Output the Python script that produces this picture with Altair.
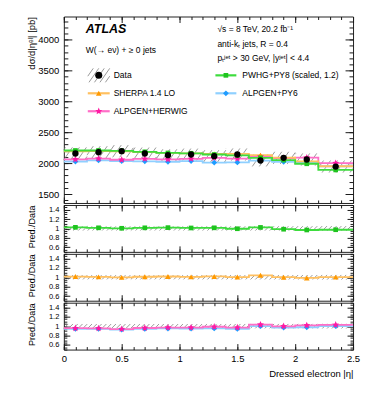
import math
import altair as alt
import pandas as pd

# ---------------- data ----------------
edges = [0.0, 0.2, 0.4, 0.6, 0.8, 1.0, 1.2, 1.4, 1.6, 1.8, 2.0, 2.2, 2.5]
data_xsec = [2156, 2177, 2194, 2156, 2129, 2140, 2113, 2140, 2043, 2086, 2059, 1945]
data_relerr = [0.046, 0.045, 0.045, 0.045, 0.045, 0.045, 0.046, 0.046, 0.047, 0.047, 0.048, 0.050]
pwhg_py8 = [2205, 2205, 2200, 2183, 2165, 2160, 2140, 2125, 2086, 2050, 1990, 1890]
sherpa = [2190, 2195, 2190, 2180, 2165, 2160, 2150, 2150, 2130, 2090, 2030, 1950]
alpgen_herwig = [2060, 2075, 2055, 2070, 2062, 2070, 2085, 2075, 2105, 2080, 2090, 2000]
alpgen_py6 = [2027, 2046, 2035, 2030, 2023, 2033, 2010, 2012, 2040, 2023, 2010, 1950]

x_major = [0, 0.5, 1, 1.5, 2, 2.5]
ym_major = [1500, 2000, 2500, 3000, 3500, 4000]
yr_major = [0.6, 0.8, 1.0, 1.2, 1.4]

# ---------------- layout / style ----------------
X0, X1 = 0.0, 2.5
YM0, YM1 = 1355, 4375
YR0, YR1 = 0.5, 1.5
W, HM, HR = 290, 187, 47
PXX = W / (X1 - X0)
FONT = "Liberation Sans"
TICK = "#1a1a1a"
HATCH = "#777777"

x_minor = [round(0.1 * i, 1) for i in range(26)]
ym_minor = list(range(1400, 4400, 100))
yr_minor = [round(0.5 + 0.05 * i, 2) for i in range(21)]

pts = []
for i in range(10):
    r = 1.0 if i % 2 == 0 else 0.45
    a = -math.pi / 2 + i * math.pi / 5
    pts.append(f"{r*math.cos(a):.3f},{r*math.sin(a):.3f}")
STAR = "M" + " L".join(pts) + " Z"

# name, values, marker colour, line colour, shape, size
SERIES = {
    "py6": ("ALPGEN+PY6", alpgen_py6, "#1f9cff", "#8fd0ff", "diamond", 34),
    "herwig": ("ALPGEN+HERWIG", alpgen_herwig, "#ff1aa3", "#ff6ec7", STAR, 55),
    "sherpa": ("SHERPA 1.4 LO", sherpa, "#ff9900", "#ffc060", "triangle-up", 32),
    "pwhg": ("PWHG+PY8 (scaled, 1.2)", pwhg_py8, "#1fc41f", "#3ddc3d", "square", 22),
}

nb = len(data_xsec)
centers = [(edges[i] + edges[i + 1]) / 2 for i in range(nb)]


def hatch_segments(lo, hi, py, spacing_px, run_ratio):
    sp = spacing_px / PXX
    rows = []
    for i in range(len(lo)):
        a, b = edges[i], edges[i + 1]
        L, H = lo[i], hi[i]
        run = (H - L) * py * run_ratio / PXX
        k0 = math.floor((a - run) / sp) - 1
        k1 = math.ceil(b / sp) + 1
        for k in range(k0, k1 + 1):
            x0 = k * sp
            x1 = x0 + run
            xs, xe = max(x0, a), min(x1, b)
            if xe - xs > 1e-6:
                rows.append(dict(x=xs, y=L + (xs - x0) / run * (H - L),
                                 x2=xe, y2=L + (xe - x0) / run * (H - L)))
    return pd.DataFrame(rows)


def box_hatch(xa, xb, ytop, ybot, spacing, run_ratio):
    h = ybot - ytop
    run = h * run_ratio
    rows = []
    x0 = xa - run
    while x0 < xb:
        x1 = x0 + run
        xs, xe = max(x0, xa), min(x1, xb)
        if xe - xs > 1e-6:
            rows.append(dict(x=xs, y=ybot - (xs - x0) / run * h, x2=xe, y2=ybot - (xe - x0) / run * h))
        x0 += spacing
    return pd.DataFrame(rows)


def ax(orient, values, size, labels=False, fmt=None, lsize=9.5, lpad=4, title=None, **kw):
    args = dict(orient=orient, values=values, tickSize=size, offset=-size, domain=False, grid=False,
                labels=labels, tickColor=TICK, tickWidth=1, title=title)
    if labels:
        args.update(labelFont=FONT, labelFontSize=lsize, labelPadding=lpad, labelColor="black",
                    format=fmt, labelOverlap=False, labelFlush=False, labelBound=False)
    args.update(kw)
    return alt.Axis(**args)


xsc = alt.Scale(domain=[X0, X1], nice=False, zero=False)
ymsc = alt.Scale(domain=[YM0, YM1], nice=False, zero=False)
yrsc = alt.Scale(domain=[YR0, YR1], nice=False, zero=False)


def step_df(keys, ratio):
    rows = []
    for k in keys:
        name, vals, mc, lc, shp, sz = SERIES[k]
        v = [vals[i] / data_xsec[i] for i in range(nb)] if ratio else list(vals)
        for i in range(nb):
            rows.append(dict(series=name, x=edges[i], y=v[i], lc=lc))
        rows.append(dict(series=name, x=edges[-1], y=v[-1], lc=lc))
    return pd.DataFrame(rows)


def marker_df(keys, ratio):
    rows = []
    for k in keys:
        name, vals, mc, lc, shp, sz = SERIES[k]
        for i in range(nb):
            v = vals[i] / data_xsec[i] if ratio else vals[i]
            rows.append(dict(series=name, x=centers[i], y=v, mc=mc, shape=shp, sz=sz))
    return pd.DataFrame(rows)


def lines_layer(df, ysc, xaxis, yaxis):
    return alt.Chart(df).mark_line(interpolate="step-after", strokeWidth=1.8).encode(
        x=alt.X("x:Q", scale=xsc, axis=xaxis),
        y=alt.Y("y:Q", scale=ysc, axis=yaxis),
        color=alt.Color("lc:N", scale=None),
        detail="series:N",
    )


def markers_layer(df, ysc, xaxis, yaxis):
    return alt.Chart(df).mark_point(filled=True, opacity=1, strokeWidth=0).encode(
        x=alt.X("x:Q", scale=xsc, axis=xaxis),
        y=alt.Y("y:Q", scale=ysc, axis=yaxis),
        color=alt.Color("mc:N", scale=None),
        shape=alt.Shape("shape:N", scale=None),
        size=alt.Size("sz:Q", scale=None),
    )


def hatch_layer(df, ysc, xaxis, yaxis):
    return alt.Chart(df).mark_rule(color=HATCH, strokeWidth=0.75).encode(
        x=alt.X("x:Q", scale=xsc, axis=xaxis), x2="x2:Q",
        y=alt.Y("y:Q", scale=ysc, axis=yaxis), y2="y2:Q",
    )


# ---------------- main panel ----------------
lo_m = [data_xsec[i] * (1 - data_relerr[i]) for i in range(nb)]
hi_m = [data_xsec[i] * (1 + data_relerr[i]) for i in range(nb)]
hm_df = hatch_segments(lo_m, hi_m, HM / (YM1 - YM0), 7.0, 0.7)

main_title_x = -27
main_layers = [
    hatch_layer(hm_df, ymsc, ax("bottom", x_major, 6),
                ax("left", ym_major, 8, labels=True, fmt="d", lsize=9.5, lpad=5,
                   title="dσ/d|ηᵉˡ| [pb]", titleFont=FONT, titleFontSize=9.5, titleFontWeight="normal",
                   titleAnchor="end", titleX=main_title_x - 8, titleColor="black")),
    lines_layer(step_df(["py6", "herwig", "sherpa", "pwhg"], False), ymsc,
                ax("bottom", x_minor, 3), ax("left", ym_minor, 4)),
    markers_layer(marker_df(["py6", "herwig", "sherpa", "pwhg"], False), ymsc,
                  ax("top", x_major, 6), ax("right", ym_major, 8)),
    alt.Chart(pd.DataFrame({"x": centers, "y": data_xsec})).mark_circle(color="black", size=40, opacity=1).encode(
        x=alt.X("x:Q", scale=xsc, axis=ax("top", x_minor, 3)),
        y=alt.Y("y:Q", scale=ymsc, axis=ax("right", ym_minor, 4)),
    ),
]

# legend (pixel positions inside the main plot area)
LX = dict(l1=24, l2=46, lm=35, lt=50, r1=152, r2=173, rm=162.5, rt=179)
ROWS = [59, 77, 95]
leg_hatch = box_hatch(LX["l1"], LX["l2"], ROWS[0] - 7, ROWS[0] + 7, 5.5, 0.7)
leg_lines = pd.DataFrame([
    dict(x=LX["l1"], x2=LX["l2"], y=ROWS[1], lc=SERIES["sherpa"][3]),
    dict(x=LX["l1"], x2=LX["l2"], y=ROWS[2], lc=SERIES["herwig"][3]),
    dict(x=LX["r1"], x2=LX["r2"], y=ROWS[0], lc=SERIES["pwhg"][3]),
    dict(x=LX["r1"], x2=LX["r2"], y=ROWS[1], lc=SERIES["py6"][3]),
])
leg_marks = pd.DataFrame([
    dict(x=LX["lm"], y=ROWS[0], mc="black", shape="circle", sz=50),
    dict(x=LX["lm"], y=ROWS[1], mc=SERIES["sherpa"][2], shape=SERIES["sherpa"][4], sz=SERIES["sherpa"][5]),
    dict(x=LX["lm"], y=ROWS[2], mc=SERIES["herwig"][2], shape=SERIES["herwig"][4], sz=SERIES["herwig"][5]),
    dict(x=LX["rm"], y=ROWS[0], mc=SERIES["pwhg"][2], shape=SERIES["pwhg"][4], sz=SERIES["pwhg"][5]),
    dict(x=LX["rm"], y=ROWS[1], mc=SERIES["py6"][2], shape=SERIES["py6"][4], sz=SERIES["py6"][5]),
])
leg_text = pd.DataFrame([
    dict(x=LX["lt"], y=ROWS[0], t="Data"),
    dict(x=LX["lt"], y=ROWS[1], t=SERIES["sherpa"][0]),
    dict(x=LX["lt"], y=ROWS[2], t=SERIES["herwig"][0]),
    dict(x=LX["rt"], y=ROWS[0], t=SERIES["pwhg"][0]),
    dict(x=LX["rt"], y=ROWS[1], t=SERIES["py6"][0]),
    dict(x=22, y=34, t="W(→ eν) + ≥ 0 jets"),
    dict(x=154, y=13, t="√s = 8 TeV, 20.2 fb⁻¹"),
    dict(x=154, y=28, t="anti-kₜ jets, R = 0.4"),
    dict(x=154, y=42, t="pₜʲᵉᵗ > 30 GeV, |yʲᵉᵗ| < 4.4"),
])

px = lambda f: alt.X(f, scale=None, axis=None)
py_ = lambda f: alt.Y(f, scale=None, axis=None)

legend_layers = [
    alt.Chart(leg_hatch).mark_rule(color=HATCH, strokeWidth=0.75).encode(
        x=px("x:Q"), x2="x2:Q", y=py_("y:Q"), y2="y2:Q"),
    alt.Chart(leg_lines).mark_rule(strokeWidth=2.2).encode(
        x=px("x:Q"), x2="x2:Q", y=py_("y:Q"), color=alt.Color("lc:N", scale=None)),
    alt.Chart(leg_marks).mark_point(filled=True, opacity=1, strokeWidth=0).encode(
        x=px("x:Q"), y=py_("y:Q"), color=alt.Color("mc:N", scale=None),
        shape=alt.Shape("shape:N", scale=None), size=alt.Size("sz:Q", scale=None)),
    alt.Chart(leg_text).mark_text(align="left", baseline="middle", font=FONT, fontSize=8.5, color="black").encode(
        x=px("x:Q"), y=py_("y:Q"), text="t:N"),
    alt.Chart(pd.DataFrame({"t": ["ATLAS"]})).mark_text(
        align="left", baseline="middle", font=FONT, fontSize=12.5, fontWeight="bold", fontStyle="italic",
        color="black").encode(x=alt.value(22), y=alt.value(13), text="t:N"),
]

main = alt.layer(*main_layers, *legend_layers).resolve_axis(x="independent", y="independent").properties(
    width=W, height=HM)


# ---------------- ratio panels ----------------
lo_r = [1 - e for e in data_relerr]
hi_r = [1 + e for e in data_relerr]
hr_df = hatch_segments(lo_r, hi_r, HR / (YR1 - YR0), 4.8, 1.0)


def ratio_panel(keys, bottom):
    xlab = dict(labels=True, fmt=".1~f", lsize=9.5, lpad=4) if bottom else {}
    if bottom:
        xlab.update(title="Dressed electron |η|", titleFont=FONT, titleFontSize=9.5, titleFontWeight="normal",
                    titleAnchor="end", titlePadding=6, titleColor="black")
    layers = [
        hatch_layer(hr_df, yrsc, ax("bottom", x_major, 6, **xlab),
                    ax("left", yr_major, 6, labels=True, fmt=".1~f", lsize=7.5, lpad=5,
                       title="Pred./Data", titleFont=FONT, titleFontSize=9, titleFontWeight="normal",
                       titleAnchor="end", titleX=main_title_x - 6, titleColor="black")),
        lines_layer(step_df(keys, True), yrsc, ax("bottom", x_minor, 3), ax("left", yr_minor, 3)),
        markers_layer(marker_df(keys, True), yrsc, ax("top", x_major, 6), ax("right", yr_major, 6)),
        alt.Chart(pd.DataFrame({"x": centers, "y": [1.0] * nb})).mark_point(opacity=0).encode(
            x=alt.X("x:Q", scale=xsc, axis=ax("top", x_minor, 3)),
            y=alt.Y("y:Q", scale=yrsc, axis=ax("right", yr_minor, 3)),
        ),
    ]
    return alt.layer(*layers).resolve_axis(x="independent", y="independent").properties(width=W, height=HR)


r1 = ratio_panel(["pwhg"], False)
r2 = ratio_panel(["sherpa"], False)
r3 = ratio_panel(["py6", "herwig"], True)

chart = alt.vconcat(main, r1, r2, r3, spacing=0).properties(
    padding={"left": 18, "top": 7, "right": 5, "bottom": 5},
    background="white",
).configure_view(stroke="#222222", strokeWidth=1).configure_concat(spacing=0)

chart.save("out.html", embed_options={"renderer": "svg", "actions": False})
